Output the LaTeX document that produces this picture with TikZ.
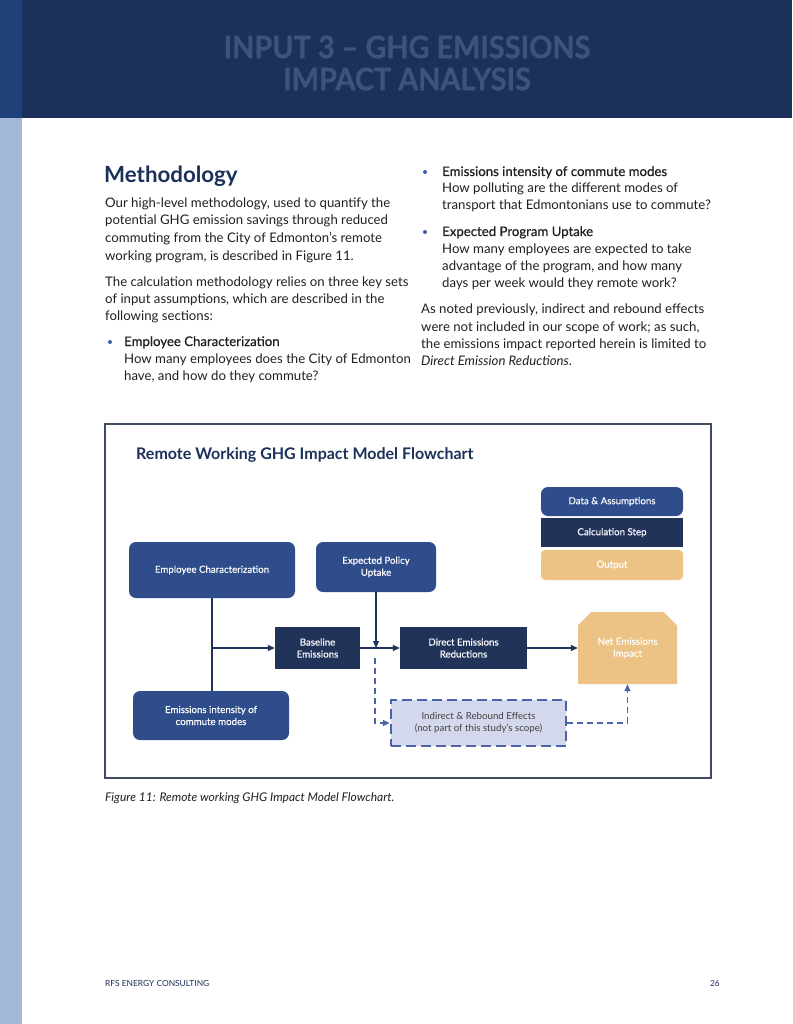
\documentclass[tikz,border=0pt]{standalone}
\usepackage{fontspec}
\setmainfont{Lato}
\newfontfamily\headfont[FakeStretch=0.93,FakeBold=0.8]{Lato}
\newfontfamily\medfont[FakeBold=0.6]{Lato}
\newfontfamily\boxfont[FakeBold=0.3]{Lato}
\usetikzlibrary{positioning,arrows.meta,shapes.misc}

\definecolor{navyhead}{HTML}{1B3159}
\definecolor{headtext}{HTML}{3C5479}
\definecolor{stripdark}{HTML}{1D4178}
\definecolor{striplight}{HTML}{A2B8D7}
\definecolor{boxblue}{HTML}{2F4D8A}
\definecolor{calcnavy}{HTML}{22335A}
\definecolor{outtan}{HTML}{ECC385}
\definecolor{dashblue}{HTML}{4A63AB}
\definecolor{lavender}{HTML}{D3D8EC}
\definecolor{framegray}{HTML}{3E4B63}
\definecolor{bodytext}{HTML}{231F20}
\definecolor{dotblue}{HTML}{3D5FA5}

\tikzset{
  ln/.style={anchor=base west, inner sep=0, text=bodytext, font=\fontsize{13.2}{17}\selectfont},
  lnhead/.style={ln, font=\medfont\fontsize{13.2}{17}\selectfont},
  dot/.style={circle, fill=dotblue, inner sep=0, minimum size=4pt},
  databox/.style={rectangle, rounded corners=7pt, fill=boxblue, text=white, align=center, font=\boxfont\fontsize{9.7}{12}\selectfont},
  calcbox/.style={rectangle, fill=calcnavy, text=white, align=center, font=\boxfont\fontsize{9.7}{12}\selectfont},
  outbox/.style={rectangle, rounded corners=4pt, fill=outtan, text=white, align=center, font=\boxfont\fontsize{9.7}{12}\selectfont},
  flow/.style={line width=1.3pt, draw=calcnavy, -{Triangle[length=7pt,width=6pt]}},
  dflow/.style={line width=1.6pt, draw=dashblue, dash pattern=on 6pt off 4pt, -{Triangle[length=7pt,width=6pt]}}
}

\begin{document}
\begin{tikzpicture}[x=1pt,y=-1pt]
\useasboundingbox (0,0) rectangle (792,1024);
\fill[white] (0,0) rectangle (792,1024);
% header band and side strip
\fill[navyhead] (22,0) rectangle (792,118);
\fill[stripdark] (0,0) rectangle (22,118);
\fill[striplight] (0,118) rectangle (22,1024);
\node (head) [align=center, text=headtext, font=\headfont\bfseries\fontsize{31}{32}\selectfont] at (407,63) {INPUT 3 – GHG EMISSIONS\\IMPACT ANALYSIS};

% left column
\node (methd) [anchor=base west, inner sep=0, text=navyhead, font=\bfseries\fontsize{22.3}{24}\selectfont] at (104,183) {Methodology};
\node (l1) [ln] at (105,208) {Our high-level methodology, used to quantify the};
\node (l2) [ln] at (105,225) {potential GHG emission savings through reduced};
\node (l3) [ln] at (105,243) {commuting from the City of Edmonton’s remote};
\node (l4) [ln] at (105,260) {working program, is described in Figure 11.};
\node (l5) [ln] at (105,286) {The calculation methodology relies on three key sets};
\node (l6) [ln] at (105,303) {of input assumptions, which are described in the};
\node (l7) [ln] at (105,320) {following sections:};
\node (b1) [dot] at (110,342) {};
\node (l8) [lnhead] at (124,346) {Employee Characterization};
\node (l9) [ln] at (124,363) {How many employees does the City of Edmonton};
\node (l10) [ln] at (124,380) {have, and how do they commute?};

% right column
\node (b2) [dot] at (425,172) {};
\node (r1) [lnhead] at (442,176) {Emissions intensity of commute modes};
\node (r2) [ln] at (442,193) {How polluting are the different modes of};
\node (r3) [ln] at (442,210) {transport that Edmontonians use to commute?};
\node (b3) [dot] at (425,232) {};
\node (r4) [lnhead] at (442,236) {Expected Program Uptake};
\node (r5) [ln] at (442,253) {How many employees are expected to take};
\node (r6) [ln] at (442,270) {advantage of the program, and how many};
\node (r7) [ln] at (442,287) {days per week would they remote work?};
\node (r8) [ln] at (421,313) {As noted previously, indirect and rebound effects};
\node (r9) [ln] at (421,331) {were not included in our scope of work; as such,};
\node (r10) [ln] at (421,348) {the emissions impact reported herein is limited to};
\node (r11) [ln] at (421,365) {\textit{Direct Emission Reductions}.};

% flowchart frame
\draw[framegray, line width=1.2pt] (105,424) rectangle (711,778);
\node (title) [anchor=base west, inner sep=0, text=navyhead, font=\bfseries\fontsize{16}{18}\selectfont] at (136,459) {Remote Working GHG Impact Model Flowchart};

% legend
\node (leg1) [databox, minimum width=142pt, minimum height=29pt] at (612,501.5) {Data \& Assumptions};
\node (leg2) [calcbox, minimum width=142pt, minimum height=29pt] at (612,532.5) {Calculation Step};
\node (leg3) [outbox, minimum width=142pt, minimum height=30pt] at (612,565) {Output};

% boxes
\node (empchar) [databox, minimum width=166pt, minimum height=56pt] at (212,570) {Employee Characterization};
\node (policy) [databox, minimum width=120pt, minimum height=50pt] at (376,567) {Expected Policy\\Uptake};
\node (intens) [databox, minimum width=156pt, minimum height=49pt] at (211,715.5) {Emissions intensity of\\commute modes};
\node (base) [calcbox, minimum width=85pt, minimum height=42pt] at (317.5,648) {Baseline\\Emissions};
\node (direct) [calcbox, minimum width=127pt, minimum height=42pt] at (463.5,648) {Direct Emissions\\Reductions};
\node (net) [outbox, rounded corners=0pt, chamfered rectangle, chamfered rectangle corners={north west,north east}, chamfered rectangle xsep=10pt, minimum width=99pt, minimum height=72pt] at (627.5,648) {Net Emissions\\Impact};
\node (indirect) [rectangle, fill=lavender, draw=dashblue, line width=2.4pt, dash pattern=on 10pt off 5pt, text=bodytext!85, align=center, font=\fontsize{9.7}{12}\selectfont, minimum width=175pt, minimum height=46pt] at (478.5,723) {Indirect \& Rebound Effects\\(not part of this study’s scope)};

% connectors
\coordinate (jn) at (empchar.south |- base.west);
\coordinate (dstart) at (375,658);
\draw[line width=1.3pt, calcnavy] (empchar.south) -- (empchar.south |- intens.north);
\draw[flow] (jn) -- (base.west);
\draw[flow] (base.east) -- (direct.west);
\draw[flow] (policy.south) -- (policy.south |- base.east);
\draw[flow] (direct.east) -- (net.west);
\draw[dflow] (dstart) |- (indirect.west);
\draw[dflow] (indirect.east) -| (net.south);

% caption and footer
\node (cap) [anchor=base west, inner sep=0, text=bodytext, font=\itshape\fontsize{12}{14}\selectfont] at (105,801) {Figure 11: Remote working GHG Impact Model Flowchart.};
\node (foot) [anchor=base west, inner sep=0, text=navyhead, font=\fontsize{8.4}{10}\selectfont] at (105,986) {RFS ENERGY CONSULTING};
\node (pg) [anchor=base east, inner sep=0, text=navyhead, font=\fontsize{8.4}{10}\selectfont] at (720,986) {26};
\end{tikzpicture}
\end{document}
